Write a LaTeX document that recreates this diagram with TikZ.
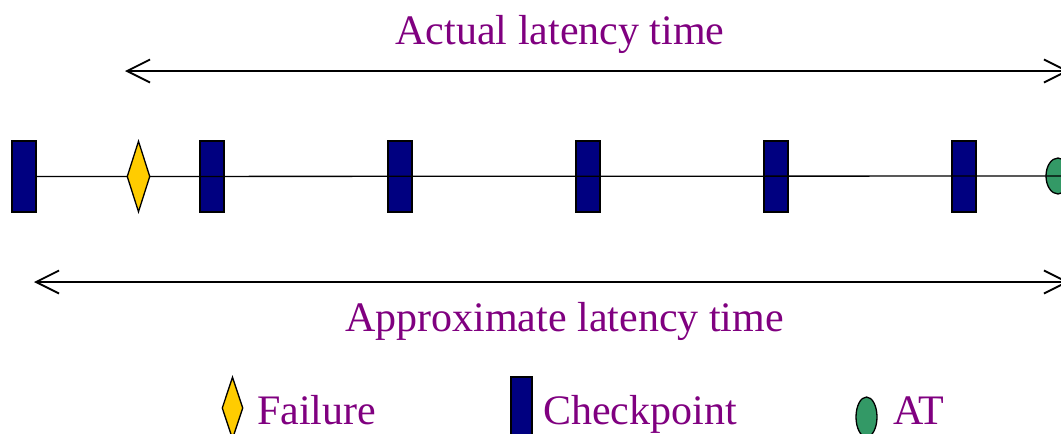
\documentclass[tikz,border=0pt]{standalone}
\usepackage{fontspec}
\setmainfont{Liberation Serif}
\usetikzlibrary{shapes.geometric,arrows.meta}
\definecolor{cpnavy}{RGB}{0,0,128}
\definecolor{failgold}{RGB}{255,204,0}
\definecolor{atgreen}{RGB}{51,153,102}
\definecolor{txtpurple}{RGB}{128,0,128}
\tikzset{
  cpbox/.style={rectangle,draw=black,fill=cpnavy,line width=1.3pt,inner sep=0pt,minimum width=24pt,minimum height=71pt},
  failmark/.style={diamond,draw=black,fill=failgold,line width=1.3pt,inner sep=0pt,minimum width=23pt,minimum height=71pt},
  atmark/.style={ellipse,draw=black,fill=atgreen,line width=1.3pt,inner sep=0pt,minimum width=24pt,minimum height=36pt},
  lbl/.style={text=txtpurple,inner sep=0pt,font=\fontsize{42}{50}\selectfont},
  latarrow/.style={line width=1.8pt,{Straight Barb[length=23pt,width=23pt]}-{Straight Barb[length=23pt,width=23pt]}},
  timeline/.style={line width=1.3pt}
}
\begin{document}
\begin{tikzpicture}[x=1pt,y=-1pt]
\clip (0,0) rectangle (1061,434);
\fill[white] (0,0) rectangle (1061,434);
% top arrow and label
\node[lbl,anchor=base] (actual) at (560,44) {Actual latency time};
\coordinate (topL) at (125,71);
\coordinate (topR) at (1069,71);
\draw[latarrow] (topL) -- (topR);
% timeline
\node[cpbox] (cp1) at (24,176.5) {};
\node[cpbox] (cp2) at (212,176.5) {};
\node[cpbox] (cp3) at (400,176.5) {};
\node[cpbox] (cp4) at (588,176.5) {};
\node[cpbox] (cp5) at (776,176.5) {};
\node[cpbox] (cp6) at (964,176.5) {};
\node[atmark] (at) at (1058,176) {};
\draw[timeline] (cp1.east) -- (at.east);
\node[failmark] (fail) at (138.5,176.5) {};
% bottom arrow and label
\coordinate (botL) at (34,282);
\coordinate (botR) at (1069,282);
\draw[latarrow] (botL) -- (botR);
\node[lbl,anchor=base] (approx) at (564.5,331) {Approximate latency time};
% legend
\node[failmark,minimum width=21pt,minimum height=62pt] (lgfail) at (232.5,408) {};
\node[lbl,anchor=base west] (lgfailtxt) at (257,424) {Failure};
\node[cpbox,minimum width=21pt] (lgcp) at (521.5,412.5) {};
\node[lbl,anchor=base west] (lgcptxt) at (543,424) {Checkpoint};
\node[atmark,minimum width=21pt,minimum height=40pt] (lgat) at (866.5,417) {};
\node[lbl,anchor=base west] (lgattxt) at (893,424) {AT};
\end{tikzpicture}
\end{document}
